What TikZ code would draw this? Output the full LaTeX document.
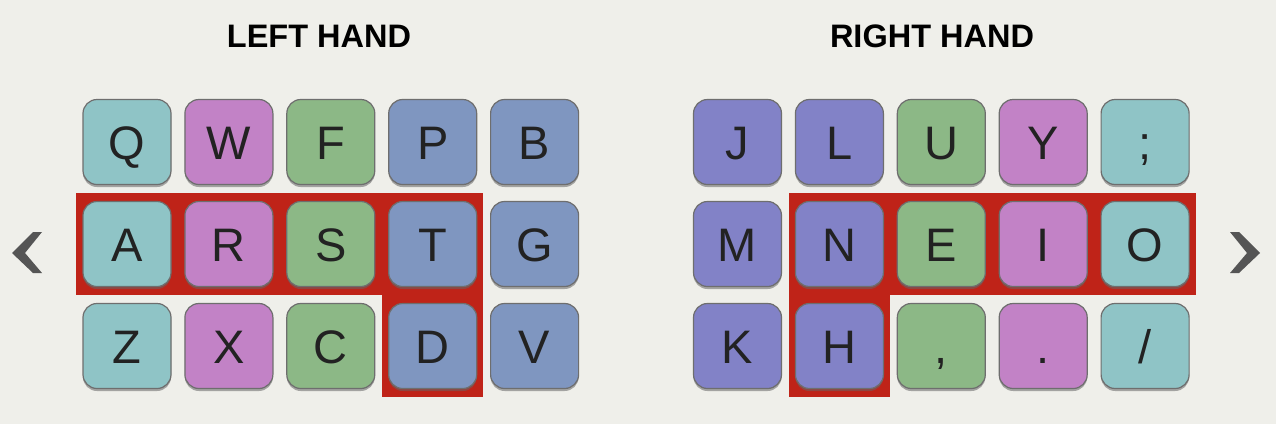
\documentclass[tikz,border=0pt]{standalone}
\usepackage{fontspec}
\setmainfont{Liberation Sans}
\usepackage{xcolor}
\usetikzlibrary{positioning,fit,shadows,backgrounds}

\definecolor{pagebg}{HTML}{EFEFEA}
\definecolor{tealkey}{HTML}{8FC4C6}
\definecolor{violetkey}{HTML}{C282C6}
\definecolor{greenkey}{HTML}{8CB886}
\definecolor{steelkey}{HTML}{7F96C0}
\definecolor{purplekey}{HTML}{8282C7}
\definecolor{keyedge}{HTML}{6E6E6E}
\definecolor{keytext}{HTML}{222222}
\definecolor{homered}{HTML}{BF2318}
\definecolor{chevgray}{HTML}{555555}

\begin{document}
\begin{tikzpicture}[x=1pt,y=-1pt,node distance=15.8pt and 12.7pt]

\tikzstyle{key}=[draw=keyedge,line width=1.2pt,rounded corners=14pt,
  minimum width=88pt,minimum height=85pt,inner sep=0pt,
  text height=34pt,text depth=0pt,text=keytext,
  font=\fontsize{47}{47}\selectfont,
  drop shadow={shadow xshift=0pt,shadow yshift=-2.5pt,opacity=.55,fill=black!60}]
\tikzstyle{hand}=[anchor=base,font=\bfseries\fontsize{32.5}{32.5}\selectfont,text=black]
\tikzset{home row/.style={fill=homered,inner xsep=6pt,inner ysep=8pt}}
\tikzset{t/.style={key,fill=tealkey},v/.style={key,fill=violetkey},
  g/.style={key,fill=greenkey},s/.style={key,fill=steelkey},
  p/.style={key,fill=purplekey}}

\useasboundingbox (0,0) rectangle (1276,424);

% titles
\node[hand] (lefttitle)  at (319,47) {LEFT HAND};
\node[hand] (righttitle) at (932,47) {RIGHT HAND};

% left hand
\node[t]              (lq) at (127,142) {Q};
\node[v, right=of lq] (lw) {W};
\node[g, right=of lw] (lf) {F};
\node[s, right=of lf] (lp) {P};
\node[s, right=of lp] (lb) {B};

\node[t, below=of lq] (la) {A};
\node[v, right=of la] (lr) {R};
\node[g, right=of lr] (ls) {S};
\node[s, right=of ls] (lt) {T};
\node[s, right=of lt] (lg) {G};

\node[t, below=of la] (lz) {Z};
\node[v, right=of lz] (lx) {X};
\node[g, right=of lx] (lc) {C};
\node[s, right=of lc] (ld) {D};
\node[s, right=of ld] (lv) {V};

% right hand
\node[p]              (rj) at (737.5,142) {J};
\node[p, right=of rj] (rl) {L};
\node[g, right=of rl] (ru) {U};
\node[v, right=of ru] (ry) {Y};
\node[t, right=of ry] (rsemi) {;};

\node[p, below=of rj] (rm) {M};
\node[p, right=of rm] (rn) {N};
\node[g, right=of rn] (re) {E};
\node[v, right=of re] (ri) {I};
\node[t, right=of ri] (ro) {O};

\node[p, below=of rm] (rk) {K};
\node[p, right=of rk] (rh) {H};
\node[g, right=of rh] (rcomma) {,};
\node[v, right=of rcomma] (rdot) {.};
\node[t, right=of rdot] (rslash) {/};

% home row marks
\begin{scope}[on background layer]
  \fill[pagebg] (0,0) rectangle (1276,424);
  \node[home row, fit=(la)(lt)] (lhome) {};
  \node[home row, fit=(lt)(ld)] (lreach) {};
  \node[home row, fit=(rn)(ro)] (rhome) {};
  \node[home row, fit=(rn)(rh)] (rreach) {};
\end{scope}

% arrows
\fill[chevgray] (12,253) -- (33,232) -- (42,232) -- (25,253)
  -- (42,273) -- (33,273) -- cycle;
\fill[chevgray] (1260,253) -- (1239,232) -- (1230,232) -- (1247,253)
  -- (1230,273) -- (1239,273) -- cycle;

\end{tikzpicture}
\end{document}
